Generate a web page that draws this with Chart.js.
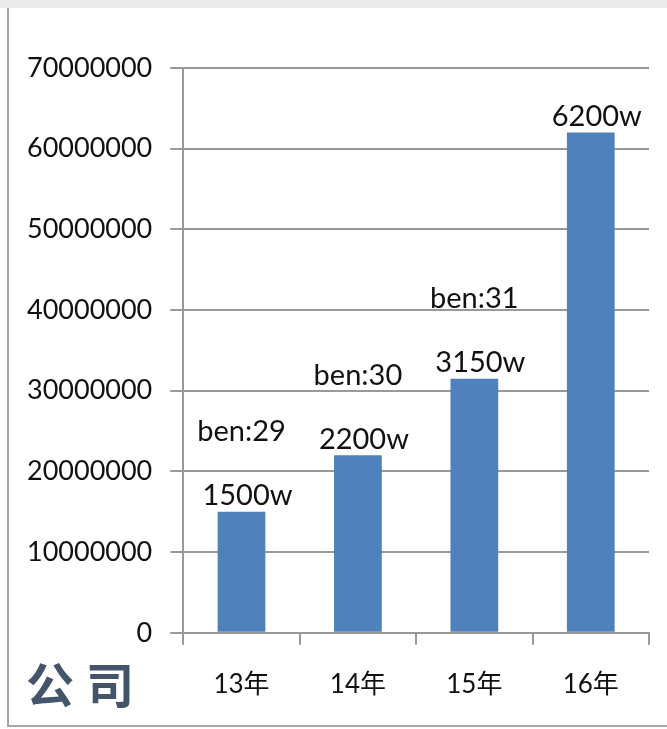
<!DOCTYPE html>
<html>
<head>
<meta charset="utf-8">
<script src="https://cdn.jsdelivr.net/npm/chart.js@4"></script>
<style>
  html, body { margin: 0; padding: 0; background: #fff; }
  body { width: 667px; height: 729px; position: relative; overflow: hidden; }
  #topbar { position: absolute; left: 0; top: 0; width: 667px; height: 8px; background: #ebebeb; }
  #frame { position: absolute; left: 7px; top: 8px; width: 670px; height: 717px;
           border-left: 2px solid #a6a6a6; border-bottom: 2px solid #a6a6a6; }
  #wrap { position: absolute; left: 0; top: 0; width: 667px; height: 729px; }
  #company { position: absolute; left: 26px; top: 651px; font-family: "Noto Sans CJK SC", sans-serif;
             font-weight: bold; font-size: 48px; line-height: 62px; color: #44546a; letter-spacing: 12px; }
</style>
</head>
<body>
<div id="topbar"></div>
<div id="frame"></div>
<div id="wrap"><canvas id="chart" width="667" height="729"></canvas></div>
<div id="company">公司</div>
<script>
// categories and values
const years = ['13年', '14年', '15年', '16年'];
const revenue = [15000000, 22000000, 31500000, 62000000];
const benLabels = ['ben:29', 'ben:30', 'ben:31', ''];
const yTicksMax = 70000000;
const yStep = 10000000;

// labels above the bars: "1500w" and "ben:xx"
const barLabels = {
    id: 'barLabels',
    afterDatasetsDraw(chart) {
        const ctx = chart.ctx;
        const meta = chart.getDatasetMeta(0);
        ctx.save();
        ctx.fillStyle = '#111';
        ctx.textAlign = 'center';
        ctx.textBaseline = 'middle';
        ctx.font = '29px Lato, "Open Sans", sans-serif';
        meta.data.forEach(function (bar, i) {
            const v = revenue[i] / 10000 + 'w';
            ctx.fillText(v, bar.x + 6, bar.y - 16);
            if (benLabels[i]) {
                ctx.fillText(benLabels[i], bar.x, bar.y - 80);
            }
        });
        ctx.restore();
    }
};

new Chart(
    document.getElementById('chart'),
    {
        type: 'bar',
        data: {
            labels: years,
            datasets: [
                {
                    label: '公司',
                    data: revenue,
                    backgroundColor: '#4f81bd',
                    categoryPercentage: 1,
                    barPercentage: 0.41
                }
            ]
        },
        options: {
            responsive: false,
            animation: false,
            layout: {
                padding: { left: 9, right: 18, top: 68, bottom: 5 }
            },
            plugins: {
                legend: { display: false },
                tooltip: { enabled: false }
            },
            scales: {
                x: {
                    grid: {
                        drawOnChartArea: false,
                        color: '#999',
                        lineWidth: 2,
                        tickLength: 12
                    },
                    border: { color: '#999', width: 2 },
                    ticks: {
                        color: '#111',
                        padding: 24,
                        font: { size: 26, family: 'Lato, "Noto Sans CJK SC", sans-serif' }
                    }
                },
                y: {
                    min: 0,
                    max: yTicksMax,
                    grid: {
                        color: '#999',
                        lineWidth: 2,
                        tickLength: 13
                    },
                    border: { color: '#999', width: 2 },
                    ticks: {
                        stepSize: yStep,
                        color: '#111',
                        padding: 18,
                        font: { size: 27, family: 'Lato, "Open Sans", sans-serif' },
                        callback: function (v) { return String(v); }
                    }
                }
            }
        },
        plugins: [barLabels]
    }
);
</script>
</body>
</html>
